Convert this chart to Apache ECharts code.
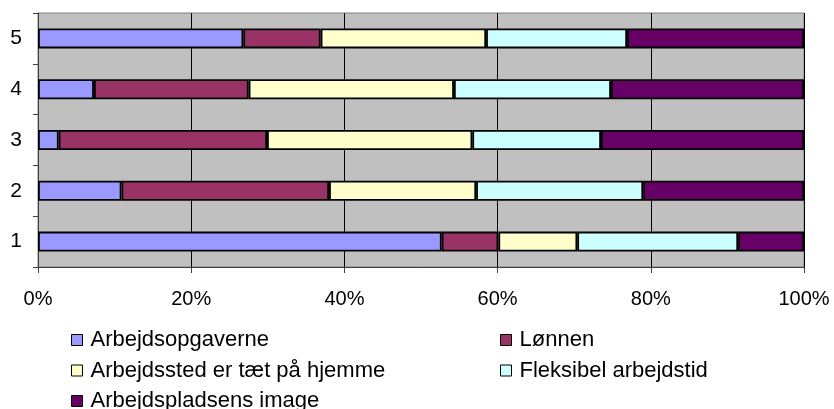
<!DOCTYPE html>
<html>
<head>
<meta charset="utf-8">
<script src="https://cdn.jsdelivr.net/npm/echarts@6/dist/echarts.min.js"></script>
<style>
  html, body { margin: 0; padding: 0; background: #fff; }
  #chart { width: 834px; height: 409px; }
</style>
</head>
<body>
<div id="chart"></div>
<script>
// kategorier (nederst til øverst)
var categories = ['1', '2', '3', '4', '5'];
var xTicks = [0, 20, 40, 60, 80, 100];

// andele i procent, læst af billedet
var arbejdsopgaverne = [52.7, 10.9, 2.7, 7.3, 26.8];
var lonnen = [7.4, 27.1, 27.2, 20.2, 10.1];
var arbejdssted = [10.3, 19.2, 26.8, 26.8, 21.6];
var fleksibel = [21.0, 21.8, 16.8, 20.5, 18.4];
var image = [8.6, 21.0, 26.5, 25.2, 23.1];

var names = ['Arbejdsopgaverne', 'Lønnen', 'Arbejdssted er tæt på hjemme', 'Fleksibel arbejdstid', 'Arbejdspladsens image'];
var colors = ['#9999FF', '#993366', '#FFFFCC', '#CCFFFF', '#660066'];
var values = [arbejdsopgaverne, lonnen, arbejdssted, fleksibel, image];

var font = 'Liberation Sans, Arial, sans-serif';

var myChart = echarts.init(document.getElementById('chart'));

var series = names.map(function (n, i) {
    return {
        name: n,
        type: 'bar',
        stack: 'total',
        barWidth: 20,
        data: values[i],
        itemStyle: { color: colors[i], borderColor: '#000', borderWidth: 1.8 }
    };
});

function legendStyle(left, list) {
    return {
        orient: 'vertical',
        left: left,
        top: 329,
        height: 100,
        icon: 'rect',
        itemWidth: 11,
        itemHeight: 11,
        itemGap: 8.5,
        padding: 0,
        data: list,
        itemStyle: { borderColor: '#000', borderWidth: 1 },
        textStyle: { fontFamily: font, fontSize: 22, color: '#000', lineHeight: 22, padding: [0, 0, 0, 3] }
    };
}

var option = {
    animation: false,
    color: colors,
    grid: {
        left: 38, right: 30, top: 13, bottom: 142,
        show: true,
        backgroundColor: '#C0C0C0',
        borderColor: '#808080',
        borderWidth: 1
    },
    legend: [
        legendStyle(71, [names[0], names[2], names[4]]),
        legendStyle(500, [names[1], names[3]])
    ],
    xAxis: {
        type: 'value',
        min: 0,
        max: 100,
        interval: 20,
        axisLine: { show: true, lineStyle: { color: '#404040', width: 1 } },
        axisTick: { show: true, length: 6, lineStyle: { color: '#404040' } },
        axisLabel: {
            margin: 22,
            fontFamily: font,
            fontSize: 20,
            color: '#000',
            formatter: function (v) { return xTicks.indexOf(v) >= 0 ? v + '%' : ''; }
        },
        splitLine: { show: true, lineStyle: { color: '#000', width: 1 } }
    },
    yAxis: {
        type: 'category',
        data: categories,
        axisLine: { show: true, lineStyle: { color: '#404040', width: 1 } },
        axisTick: { show: true, length: 5, lineStyle: { color: '#404040' } },
        axisLabel: { margin: 16, fontFamily: font, fontSize: 21, color: '#000' },
        splitLine: { show: false }
    },
    series: series
};

myChart.setOption(option);
</script>
</body>
</html>
